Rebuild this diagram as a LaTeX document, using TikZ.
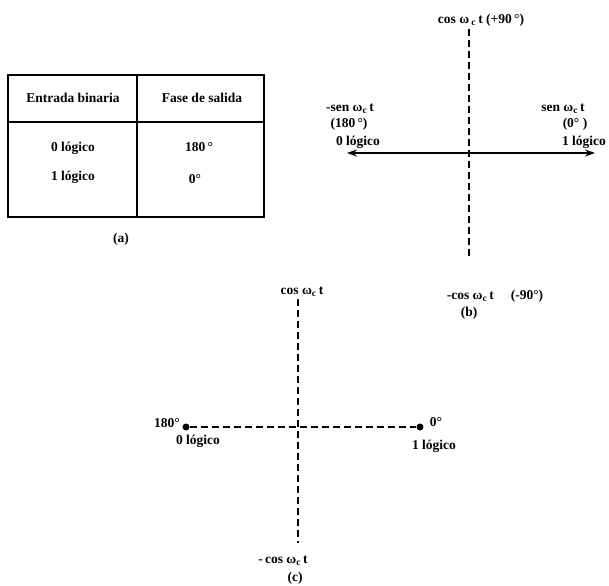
\documentclass[tikz,border=0pt]{standalone}
\usepackage{fontspec}
\setmainfont{Liberation Serif}
\usetikzlibrary{arrows.meta}
\begin{document}
\begin{tikzpicture}[x=1pt,y=-1pt,
  every node/.style={inner sep=0pt, font=\bfseries\fontsize{13.5}{15}\selectfont},
  axisdash/.style={line width=1.5pt, dash pattern=on 7pt off 4pt},
  tableline/.style={line width=1.3pt},
  dotnode/.style={circle, fill=black, minimum size=7pt, inner sep=0pt},
  dblarrow/.style={line width=1.5pt, {Stealth[length=10pt,width=7pt]}-{Stealth[length=10pt,width=7pt]}}]
\useasboundingbox (0,0) rectangle (609,585);
% (a) table
\draw[tableline] (8,75) rectangle (264,217);
\draw[tableline] (8,122) -- (264,122);
\draw[tableline] (137,75) -- (137,217);
\node (h1) at (73,98) {Entrada binaria};
\node (h2) at (202,98) {Fase de salida};
\node (r1a) at (73,148) {0 lógico};
\node (r1b) at (199,147) {180\,°};
\node (r2a) at (73,177) {1 lógico};
\node (r2b) at (195,179) {0°};
\node (capa) at (121,239) {(a)};
% (b)
\coordinate (bt) at (469,29);
\coordinate (bb) at (469,258);
\draw[axisdash] (bt) -- (bb);
\coordinate (bl) at (347,153);
\coordinate (br) at (595,153);
\draw[dblarrow] (bl) -- (br);
\node (btop) at (481,20) {cos ω\,\textsubscript{c}\,t (+90\,°)};
\node (bl1) at (350,109) {-sen ω\textsubscript{c}\,t};
\node (bl2) at (349,124) {(180\,°)};
\node (bl3) at (358,142) {0 lógico};
\node (br1) at (563,109) {sen ω\textsubscript{c}\,t};
\node (br2) at (575,124) {(0° )};
\node (br3) at (584,142) {1 lógico};
\node (bbot) at (495,296) {-cos ω\textsubscript{c}\,t \quad (-90°)};
\node (capb) at (469,313) {(b)};
% (c)
\coordinate (ct) at (298,299);
\coordinate (cb) at (298,543);
\draw[axisdash] (ct) -- (cb);
\node[dotnode] (d0) at (186,427) {};
\node[dotnode] (d1) at (420,427) {};
\draw[axisdash] (d0) -- (d1);
\node (ctop) at (302,292) {cos ω\textsubscript{c}\,t};
\node (c180) at (167,423) {180°};
\node (c0) at (436,422) {0°};
\node (cl0) at (198,441) {0 lógico};
\node (cl1) at (434,446) {1 lógico};
\node (cbot) at (283,561) {-\,cos ω\textsubscript{c}\,t};
\node (capc) at (295,578) {(c)};
\end{tikzpicture}
\end{document}
